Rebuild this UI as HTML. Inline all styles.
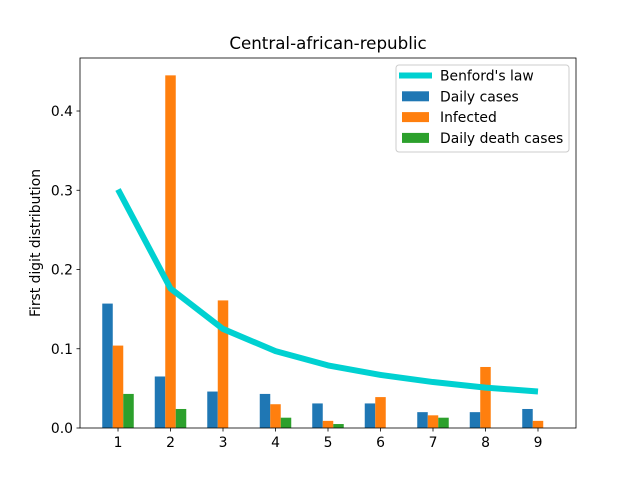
<!DOCTYPE html>
<html><head><meta charset="utf-8"><style>
body{margin:0;background:#fff;}
svg{font-family:"DejaVu Sans","Liberation Sans",sans-serif;}
</style></head><body>
<svg id="chart" width="640" height="480">
<rect width="640" height="480" fill="#fff"/>
<text x="328" y="49" text-anchor="middle" font-size="16.7">Central-african-republic</text>
<g id="plot"></g>
<text transform="translate(40,243) rotate(-90)" text-anchor="middle" font-size="13.9">First digit distribution</text>
</svg>
<script>
const digits=[1,2,3,4,5,6,7,8,9];
const benford=[0.301,0.176,0.125,0.097,0.079,0.067,0.058,0.051,0.046];
const daily=[0.157,0.065,0.046,0.043,0.031,0.031,0.020,0.020,0.024];
const infected=[0.104,0.445,0.161,0.030,0.009,0.039,0.016,0.077,0.009];
const deaths=[0.043,0.024,0,0.013,0.005,0,0.013,0,0];
const yTicks=[0,0.1,0.2,0.3,0.4];
const L=80,R=576,T=58,B=428;
const xmin=0.276,xmax=9.724,ymin=0,ymax=0.4669;
const X=v=>L+(v-xmin)/(xmax-xmin)*(R-L);
const Y=v=>B-(v-ymin)/(ymax-ymin)*(B-T);
const NS="http://www.w3.org/2000/svg";
const g=document.getElementById('plot');
function mk(t,a){const e=document.createElementNS(NS,t);for(const k in a)e.setAttribute(k,a[k]);g.appendChild(e);return e;}
const series=[[daily,-0.2,'#1f77b4','bar-daily-cases'],[infected,0,'#ff7f0e','bar-infected'],[deaths,0.2,'#2ca02c','bar-daily-death']];
series.forEach(([arr,off,col,name])=>{
 arr.forEach((v,i)=>{
  const x0=X(digits[i]+off-0.1),x1=X(digits[i]+off+0.1);
  const r=mk('rect',{x:x0,y:Y(v),width:x1-x0,height:Y(0)-Y(v),fill:col});
  
  
 });
});
const pts=digits.map((d,i)=>X(d)+','+Y(benford[i])).join(' ');
const pl=mk('polyline',{points:pts,fill:'none',stroke:'#00d1d1',"stroke-width":6,"stroke-linejoin":'round'});


const fr=mk('rect',{x:L,y:T,width:R-L,height:B-T,fill:'none',stroke:'#000',"stroke-width":0.8});


digits.forEach(d=>{
 mk('line',{x1:X(d),x2:X(d),y1:B,y2:B+3.5,stroke:'#000',"stroke-width":0.8});
 const t=mk('text',{x:X(d),y:B+19,"text-anchor":'middle',"font-size":13.9});t.textContent=d;
 
 
});
yTicks.forEach(v=>{
 mk('line',{x1:L-3.5,x2:L,y1:Y(v),y2:Y(v),stroke:'#000',"stroke-width":0.8});
 const t=mk('text',{x:L-7,y:Y(v)+5,"text-anchor":'end',"font-size":13.9});t.textContent=v.toFixed(1);
 
 
});
const lg=mk('rect',{x:396,y:65,width:173,height:87,fill:'#fff',stroke:'#ccc',rx:3});


const entries=[["Benford's law",'#00d1d1','line'],['Daily cases','#1f77b4','bar'],['Infected','#ff7f0e','bar'],['Daily death cases','#2ca02c','bar']];
entries.forEach(([lab,col,kind],i)=>{
 const cy=75.5+i*20.8;
 if(kind==='line')mk('line',{x1:399,x2:432,y1:cy,y2:cy,stroke:col,"stroke-width":6});
 else mk('rect',{x:402,y:cy-5,width:27,height:10,fill:col});
 const t=mk('text',{x:440,y:cy+5,"font-size":13.9});t.textContent=lab;
 
 
});
</script>
</body></html>
